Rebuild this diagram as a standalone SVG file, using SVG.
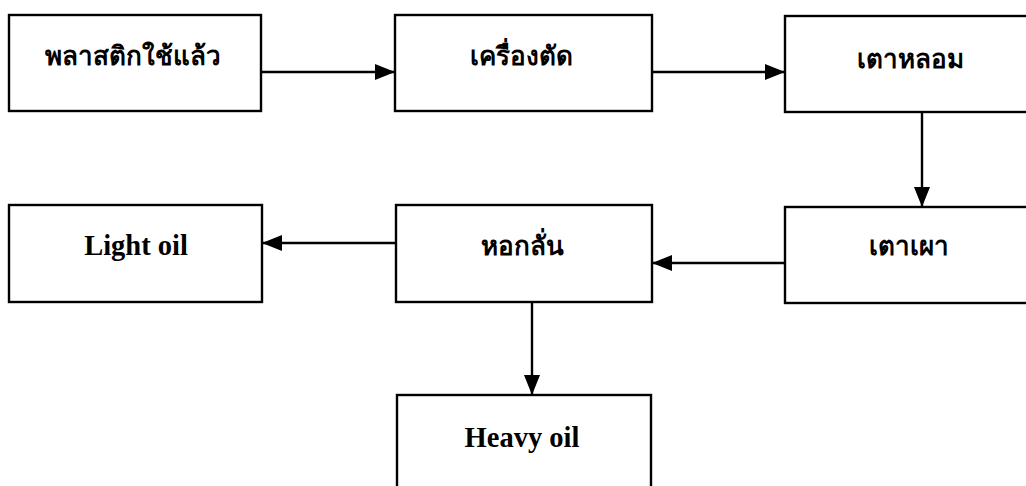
<svg xmlns="http://www.w3.org/2000/svg" width="1026" height="486" viewBox="0 0 1026 486">
<defs>
<marker id="ah" viewBox="0 0 20 16" refX="20" refY="8" markerWidth="20" markerHeight="16" markerUnits="userSpaceOnUse" orient="auto">
<path d="M0,0 L20,8 L0,16 Z" fill="#000"/>
</marker>
<style>
.box{fill:#fff;stroke:#000;stroke-width:2.4}
.th{font-family:"Liberation Serif","DejaVu Sans",serif;font-weight:bold;font-size:26px;text-anchor:middle;fill:#000}
.en{font-family:"Liberation Serif",serif;font-weight:bold;font-size:28.5px;text-anchor:middle;fill:#000}
.con{stroke:#000;stroke-width:2.4;fill:none;marker-end:url(#ah)}
</style>
</defs>
<rect width="1026" height="486" fill="#fff"/>
<g id="connectors">
<line class="con" x1="261" y1="72" x2="395" y2="72"/>
<line class="con" x1="652" y1="72" x2="785" y2="72"/>
<line class="con" x1="922" y1="112" x2="922" y2="207"/>
<line class="con" x1="785" y1="263" x2="652" y2="263"/>
<line class="con" x1="396" y1="243" x2="262" y2="243"/>
<line class="con" x1="532" y1="302" x2="532" y2="395"/>
</g>
<g id="n1"><rect class="box" x="9" y="15" width="252" height="96"/><text class="th" x="133" y="65">พลาสติกใช้แล้ว</text></g>
<g id="n2"><rect class="box" x="395" y="15" width="257" height="96"/><text class="th" x="521" y="65">เครื่องตัด</text></g>
<g id="n3"><rect class="box" x="785" y="16" width="260" height="96"/><text class="th" x="910" y="68">เตาหลอม</text></g>
<g id="n4"><rect class="box" x="785" y="207" width="260" height="96"/><text class="th" x="909" y="255">เตาเผา</text></g>
<g id="n5"><rect class="box" x="396" y="205" width="256" height="97"/><text class="th" x="522" y="255">หอกลั่น</text></g>
<g id="n6"><rect class="box" x="9" y="205" width="253" height="97"/><text class="en" x="136" y="255">Light oil</text></g>
<g id="n7"><rect class="box" x="397" y="395" width="254" height="110"/><text class="en" x="522" y="447">Heavy oil</text></g>
</svg>
